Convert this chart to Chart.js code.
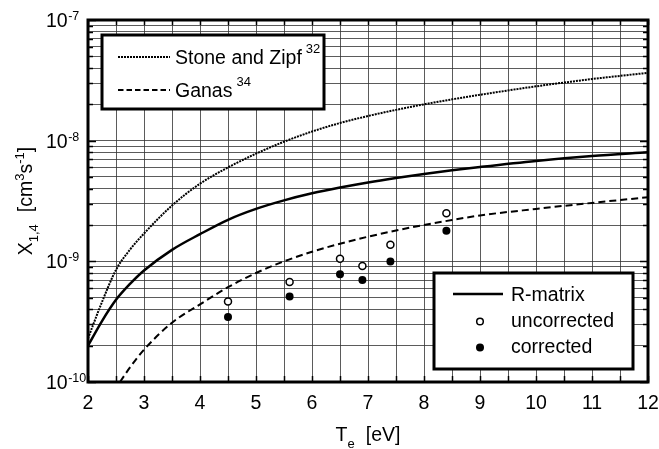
<!DOCTYPE html>
<html><head><meta charset="utf-8">
<script src="https://cdn.jsdelivr.net/npm/chart.js@4.4.0/dist/chart.umd.min.js"></script>
<style>html,body{margin:0;padding:0;background:#fff;}#wrap{width:659px;height:449px;}</style>
</head><body><div id="wrap"><canvas id="c" width="659" height="449"></canvas></div>
<script>
// ---- data ----
const xTickLabels = [2,3,4,5,6,7,8,9,10,11,12];
const yTickExponents = [-7,-8,-9,-10];

const rmatrixT = [2, 2.25, 2.5, 2.75, 3, 3.5, 4, 4.5, 5, 5.5, 6, 6.5, 7, 7.5, 8, 8.5, 9, 10, 11, 12];
const rmatrixX = [2.0e-10, 3.2e-10, 4.8e-10, 6.5e-10, 8.4e-10, 1.245e-9, 1.68e-9, 2.21e-9, 2.72e-9, 3.2e-9, 3.66e-9, 4.09e-9, 4.51e-9, 4.91e-9, 5.3e-9, 5.68e-9, 6.05e-9, 6.79e-9, 7.45e-9, 8.0e-9];

const stoneT = [2, 2.25, 2.5, 2.75, 3, 3.5, 4, 4.5, 5, 5.5, 6, 6.5, 7, 7.5, 8, 8.5, 9, 10, 11, 12];
const stoneX = [2.3e-10, 4.6e-10, 8.5e-10, 1.25e-9, 1.7e-9, 2.9e-9, 4.4e-9, 6.0e-9, 7.8e-9, 9.8e-9, 1.19e-8, 1.4e-8, 1.6e-8, 1.8e-8, 2.0e-8, 2.2e-8, 2.4e-8, 2.82e-8, 3.24e-8, 3.65e-8];

const ganasT = [2.57, 2.75, 3, 3.5, 4, 4.5, 5, 5.5, 6, 6.5, 7, 7.5, 8, 8.5, 9, 10, 11, 12];
const ganasX = [1.0e-10, 1.32e-10, 1.85e-10, 3.1e-10, 4.4e-10, 6.1e-10, 8.0e-10, 1.0e-9, 1.2e-9, 1.4e-9, 1.6e-9, 1.8e-9, 2.0e-9, 2.2e-9, 2.4e-9, 2.72e-9, 3.05e-9, 3.4e-9];

const expT = [4.5, 5.6, 6.5, 6.9, 7.4, 8.4];
const uncorrectedX = [4.64e-10, 6.75e-10, 1.05e-9, 9.16e-10, 1.37e-9, 2.5e-9];
const correctedX   = [3.46e-10, 5.1e-10, 7.8e-10, 7.0e-10, 9.95e-10, 1.79e-9];

// grid positions
const xGrid = [2,2.5,3,3.5,4,4.5,5,5.5,6,6.5,7,7.5,8,8.5,9,9.5,10,10.5,11,11.5,12];
const yMantissas = [1,2,3,4,5,6,7,8,9];
const yDecades = [-10,-9,-8];

// ---- helpers ----
const FONT = '"Liberation Sans", Arial, Helvetica, sans-serif';
const pts = (xs, ys) => xs.map((v, i) => ({x: v, y: ys[i]}));
const yGrid = [];
yDecades.forEach(d => yMantissas.forEach(m => yGrid.push(m * Math.pow(10, d))));
yGrid.push(1e-7);

function rich(ctx, parts, x, y, align) {
  let w = 0;
  parts.forEach(p => { ctx.font = p.s + 'px ' + FONT; w += ctx.measureText(p.t).width + (p.gap || 0); });
  let cx = align === 'center' ? x - w / 2 : (align === 'right' ? x - w : x);
  parts.forEach(p => {
    ctx.font = p.s + 'px ' + FONT;
    ctx.fillText(p.t, cx, y + (p.dy || 0));
    cx += ctx.measureText(p.t).width + (p.gap || 0);
  });
  return w;
}

const GRID = 'rgba(50,50,50,0.8)';

const decorPlugin = {
  id: 'decor',
  afterDraw(chart) {
    const {ctx, chartArea: a, scales: {x, y}} = chart;
    ctx.save();
    ctx.fillStyle = '#000';
    ctx.strokeStyle = '#000';
    ctx.textBaseline = 'alphabetic';
    ctx.textAlign = 'left';
    ctx.lineWidth = 1.5;
    const seg = (x1, y1, x2, y2) => { ctx.beginPath(); ctx.moveTo(x1, y1); ctx.lineTo(x2, y2); ctx.stroke(); };
    x.ticks.forEach(t => {
      const px = Math.round(x.getPixelForValue(t.value)) + 0.5;
      seg(px, a.top, px, a.top + 5);
      seg(px, a.bottom, px, a.bottom - 6);
    });
    y.ticks.forEach(t => {
      const py = Math.round(y.getPixelForValue(t.value)) + 0.5;
      const e = Math.log10(t.value);
      const major = Math.abs(e - Math.round(e)) < 1e-6;
      const L = major ? 8 : 5;
      seg(a.left, py, a.left + L, py);
      seg(a.right, py, a.right - L, py);
    });
    ctx.lineWidth = 3;
    ctx.strokeRect(a.left, a.top, a.right - a.left, a.bottom - a.top);

    // x tick labels
    xTickLabels.forEach(v => {
      rich(ctx, [{t: String(v), s: 19.5}], x.getPixelForValue(v), 409, 'center');
    });
    // y tick labels (left aligned)
    yTickExponents.forEach(e => {
      const py = y.getPixelForValue(Math.pow(10, e));
      rich(ctx, [{t: '10', s: 19.5, gap: 0.5}, {t: String(e), s: 12.5, dy: -7}], 46, py + 7, 'left');
    });
    // x title
    rich(ctx, [{t: 'T', s: 19.5}, {t: 'e', s: 13, dy: 7, gap: 11}, {t: '[eV]', s: 19.5}], 368, 441, 'center');
    // y title
    ctx.save();
    ctx.translate(32, (a.top + a.bottom) / 2);
    ctx.rotate(-Math.PI / 2);
    rich(ctx, [{t: 'X', s: 19.5}, {t: '1,4', s: 13, dy: 6, gap: 12}, {t: '[cm', s: 19.5}, {t: '3', s: 13, dy: -8}, {t: 's', s: 19.5}, {t: '-1', s: 13, dy: -8}, {t: ']', s: 19.5}], 0, 0, 'center');
    ctx.restore();

    // legends
    const box = (l, t, r, b) => {
      ctx.fillStyle = '#fff';
      ctx.fillRect(l, t, r - l, b - t);
      ctx.lineWidth = 3;
      ctx.strokeStyle = '#000';
      ctx.strokeRect(l, t, r - l, b - t);
      ctx.fillStyle = '#000';
    };
    const sample = (x1, x2, yy, dash, w) => {
      ctx.save(); ctx.setLineDash(dash); ctx.lineWidth = w; ctx.lineCap = 'butt';
      seg(x1, yy, x2, yy); ctx.restore();
    };
    box(102, 35, 324, 109);
    sample(118, 170, 57, [2, 1], 2);
    rich(ctx, [{t: 'Stone and Zipf', s: 19.5, gap: 4}, {t: '32', s: 13, dy: -11}], 175, 64, 'left');
    sample(118, 170, 90, [5.5, 3], 2);
    rich(ctx, [{t: 'Ganas', s: 19.5, gap: 4}, {t: '34', s: 13, dy: -11}], 175, 97, 'left');

    box(434, 273, 633, 369);
    sample(453, 503, 294, [], 2.4);
    rich(ctx, [{t: 'R-matrix', s: 19.5}], 511, 301, 'left');
    ctx.beginPath(); ctx.arc(480, 321.5, 3.3, 0, Math.PI * 2); ctx.fillStyle = '#fff'; ctx.fill(); ctx.lineWidth = 1.5; ctx.stroke();
    ctx.fillStyle = '#000';
    rich(ctx, [{t: 'uncorrected', s: 19.5}], 511, 327, 'left');
    ctx.beginPath(); ctx.arc(480, 347.5, 4, 0, Math.PI * 2); ctx.fill();
    rich(ctx, [{t: 'corrected', s: 19.5}], 511, 353, 'left');
    ctx.restore();
  }
};

new Chart(document.getElementById('c').getContext('2d'), {
  type: 'line',
  data: {
    datasets: [
      {label: 'R-matrix', data: pts(rmatrixT, rmatrixX), borderColor: '#000', borderWidth: 2.5, pointRadius: 0, cubicInterpolationMode: 'monotone', fill: false},
      {label: 'Stone and Zipf', data: pts(stoneT, stoneX), borderColor: '#000', borderWidth: 2, borderDash: [2, 1], pointRadius: 0, cubicInterpolationMode: 'monotone', fill: false},
      {label: 'Ganas', data: pts(ganasT, ganasX), borderColor: '#000', borderWidth: 2, borderDash: [7, 4], pointRadius: 0, cubicInterpolationMode: 'monotone', fill: false},
      {label: 'uncorrected', data: pts(expT, uncorrectedX), showLine: false, pointRadius: 3.5, pointBorderWidth: 1.5, pointBorderColor: '#000', pointBackgroundColor: '#fff'},
      {label: 'corrected', data: pts(expT, correctedX), showLine: false, pointRadius: 4, pointBorderWidth: 0, pointBorderColor: '#000', pointBackgroundColor: '#000'}
    ]
  },
  options: {
    responsive: false, animation: false, devicePixelRatio: 1,
    layout: {padding: {left: 0, top: 20, right: 11, bottom: 0}},
    plugins: {legend: {display: false}, tooltip: {enabled: false}},
    scales: {
      x: {type: 'linear', min: 2, max: 12,
          afterBuildTicks(s) { s.ticks = xGrid.map(v => ({value: v})); },
          ticks: {display: false}, grid: {color: GRID, lineWidth: 1, drawTicks: false}, border: {display: false},
          afterFit(s) { s.height = 67; }},
      y: {type: 'logarithmic', min: 1e-10, max: 1e-7,
          afterBuildTicks(s) { s.ticks = yGrid.map(v => ({value: v})); },
          ticks: {display: false}, grid: {color: GRID, lineWidth: 1, drawTicks: false}, border: {display: false},
          afterFit(s) { s.width = 88; }}
    }
  },
  plugins: [decorPlugin]
});
</script></body></html>
